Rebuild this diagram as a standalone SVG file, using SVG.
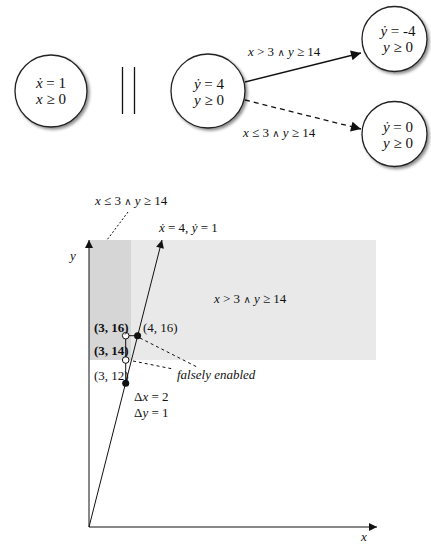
<svg xmlns="http://www.w3.org/2000/svg" width="431" height="544" viewBox="0 0 431 544" font-family="'Liberation Serif', 'Times New Roman', 'DejaVu Serif', serif">
<style>
text{font-family:'Liberation Serif','Times New Roman','DejaVu Serif',serif;fill:#111}
.n{font-size:15px}
.s{font-size:13px}
.i{font-style:italic}
.b{font-weight:bold}
.a{font-family:'DejaVu Serif',serif;font-size:10px;font-weight:normal}
.node{fill:#fff;stroke:#222;stroke-width:1.3;filter:url(#sh)}
.ln{stroke:#111;stroke-width:1.3;fill:none}
.thin{stroke:#111;stroke-width:1;fill:none}
</style>
<defs>
<filter id="sh" x="-20%" y="-20%" width="150%" height="150%">
<feDropShadow dx="2" dy="2" stdDeviation="1.5" flood-color="#000" flood-opacity="0.45"/>
</filter>
<marker id="ah" viewBox="0 0 10 10" refX="10" refY="5" markerWidth="10" markerHeight="8" markerUnits="userSpaceOnUse" orient="auto">
<path d="M0,0 L10,5 L0,10 z" fill="#111"/>
</marker>
<marker id="ahb" viewBox="0 0 10 10" refX="10" refY="5" markerWidth="16" markerHeight="10" markerUnits="userSpaceOnUse" orient="auto">
<path d="M0,0 L10,5 L0,10 z" fill="#111"/>
</marker>
</defs>

<!-- top automata -->
<g id="node-x">
<circle class="node" cx="51" cy="91" r="36"/>
<text class="n" x="51" y="88" text-anchor="middle"><tspan class="i">ẋ</tspan> = 1</text>
<text class="n" x="51" y="104" text-anchor="middle"><tspan class="i">x</tspan> ≥ 0</text>
</g>
<g id="parallel">
<line x1="122.5" y1="67" x2="122.5" y2="114" class="ln"/>
<line x1="134.5" y1="67" x2="134.5" y2="114" class="ln"/>
</g>
<g id="node-y4">
<circle class="node" cx="208" cy="91" r="37"/>
<text class="n" x="209" y="89" text-anchor="middle"><tspan class="i">ẏ</tspan> = 4</text>
<text class="n" x="209" y="105" text-anchor="middle"><tspan class="i">y</tspan> ≥ 0</text>
</g>
<g id="node-ym4">
<circle class="node" cx="394.5" cy="39" r="32.5"/>
<text class="n" x="398" y="36" text-anchor="middle"><tspan class="i">ẏ</tspan> = -4</text>
<text class="n" x="398" y="52" text-anchor="middle"><tspan class="i">y</tspan> ≥ 0</text>
</g>
<g id="node-y0">
<circle class="node" cx="394.5" cy="134" r="32.5"/>
<text class="n" x="398" y="132" text-anchor="middle"><tspan class="i">ẏ</tspan> = 0</text>
<text class="n" x="398" y="148" text-anchor="middle"><tspan class="i">y</tspan> ≥ 0</text>
</g>
<g id="edges">
<line x1="245" y1="82" x2="361" y2="53" class="ln" marker-end="url(#ahb)"/>
<line x1="245" y1="100" x2="361" y2="129" class="ln" stroke-dasharray="5,4" marker-end="url(#ahb)"/>
<text class="s" x="248" y="56"><tspan class="i">x</tspan> &gt; 3 <tspan class="a">∧</tspan> <tspan class="i">y</tspan> ≥ 14</text>
<text class="s" x="243" y="137"><tspan class="i">x</tspan> ≤ 3 <tspan class="a">∧</tspan> <tspan class="i">y</tspan> ≥ 14</text>
</g>

<!-- plot -->
<g id="regions">
<rect x="131" y="240" width="245" height="120" fill="#e9e9e9"/>
<rect x="89" y="240" width="42" height="120" fill="#d6d6d6"/>
<text class="s" x="214" y="303"><tspan class="i">x</tspan> &gt; 3 <tspan class="a">∧</tspan> <tspan class="i">y</tspan> ≥ 14</text>
</g>
<g id="axes">
<line x1="89" y1="527" x2="89" y2="240" class="thin" marker-end="url(#ah)"/>
<line x1="89" y1="527" x2="377" y2="527" class="thin" marker-end="url(#ah)"/>
<text class="s i" x="70" y="260">y</text>
<text class="s i" x="361" y="541">x</text>
</g>
<g id="trajectory">
<line x1="89" y1="527" x2="162" y2="240" class="thin" marker-end="url(#ah)"/>
<text class="s" x="159" y="232"><tspan class="i">ẋ</tspan> = 4, <tspan class="i">ẏ</tspan> = 1</text>
</g>
<g id="region-label">
<line x1="128" y1="212" x2="107" y2="240" class="thin" stroke-dasharray="2,2"/>
<text class="s" x="95" y="205"><tspan class="i">x</tspan> ≤ 3 <tspan class="a">∧</tspan> <tspan class="i">y</tspan> ≥ 14</text>
</g>
<g id="discrete">
<line x1="125.7" y1="383.3" x2="125.7" y2="335.7" class="thin"/>
<line x1="125.7" y1="335.7" x2="137.6" y2="335.7" class="thin"/>
<line x1="133" y1="361" x2="173" y2="369" class="thin" stroke-dasharray="3,3"/>
<line x1="140" y1="338" x2="197" y2="367" class="thin" stroke-dasharray="3,3"/>
<circle cx="125.7" cy="335.7" r="3.3" fill="#fff" stroke="#111" stroke-width="1"/>
<circle cx="125.7" cy="360" r="3.3" fill="#fff" stroke="#111" stroke-width="1"/>
<circle cx="137.6" cy="335.7" r="3.5" fill="#111"/>
<circle cx="125.7" cy="383.3" r="3.5" fill="#111"/>
<text class="s b" x="94" y="332">(3, 16)</text>
<text class="s" x="143" y="332">(4, 16)</text>
<text class="s b" x="94" y="355">(3, 14)</text>
<text class="s" x="94" y="380">(3, 12)</text>
<text class="s" x="134" y="401">Δ<tspan class="i">x</tspan> = 2</text>
<text class="s" x="134" y="417">Δ<tspan class="i">y</tspan> = 1</text>
<text class="s i" x="177" y="379">falsely enabled</text>
</g>
</svg>
